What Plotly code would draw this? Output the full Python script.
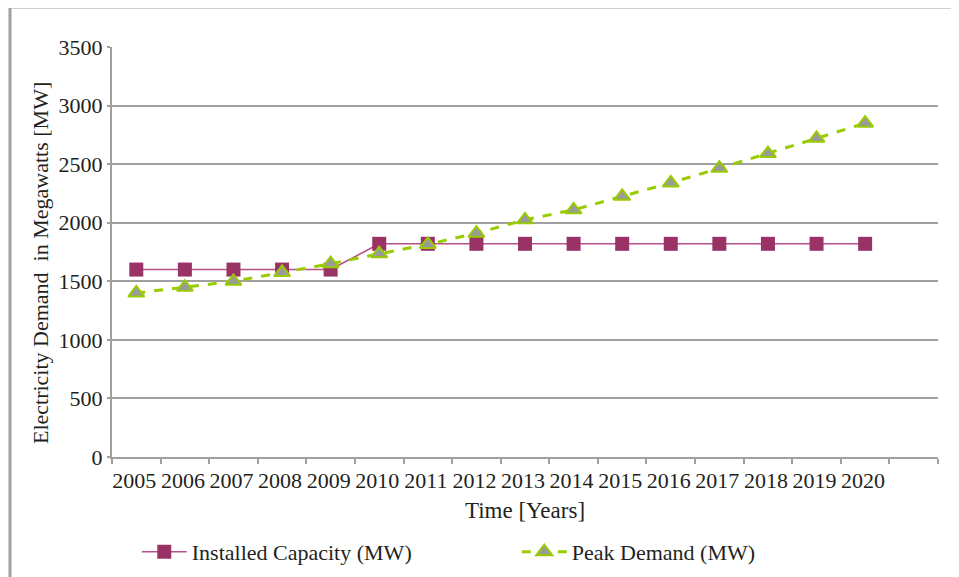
import plotly.graph_objects as go

years = list(range(2005, 2021))
year_labels = [str(y) for y in years]
installed_capacity = [1600, 1600, 1600, 1600, 1600, 1820, 1820, 1820, 1820, 1820, 1820, 1820, 1820, 1820, 1820, 1820]
peak_demand = [1400, 1450, 1500, 1575, 1650, 1735, 1815, 1910, 2025, 2110, 2225, 2340, 2465, 2590, 2720, 2850]
y_ticks = [0, 500, 1000, 1500, 2000, 2500, 3000, 3500]

FONT = "Liberation Serif"
TXT = "#231f20"

fig = go.Figure()
fig.add_trace(go.Scatter(
    x=years, y=installed_capacity, name="Installed Capacity (MW)",
    mode="lines+markers",
    line=dict(color="#b5508a", width=1.6),
    marker=dict(symbol="square", size=14, color="#993366", line=dict(color="#993366", width=0)),
))
fig.add_trace(go.Scatter(
    x=years, y=peak_demand, name="Peak Demand (MW)",
    mode="lines+markers",
    line=dict(color="#99cc00", width=3, dash="dash"),
    marker=dict(symbol="triangle-up", size=14, color="#9a9a9a", line=dict(color="#99cc00", width=2)),
))

# page body adds an 8px offset; sizes compensate for it
fig.update_layout(
    width=951, height=569,
    margin=dict(l=104, r=21, t=39, b=120),
    paper_bgcolor="white", plot_bgcolor="white",
    font=dict(family=FONT, size=22, color=TXT),
    showlegend=True,
    legend=dict(orientation="h", x=0.03, xanchor="left",
                yref="container", y=0.044, yanchor="middle",
                entrywidthmode="pixels", entrywidth=320, itemwidth=45,
                font=dict(family=FONT, size=22, color=TXT)),
    shapes=[dict(type="rect", xref="paper", yref="paper",
                 x0=-0.1235, x1=1.3, y0=-0.6, y1=1.0976,
                 line=dict(color="#a0a0a0", width=3), fillcolor="rgba(0,0,0,0)", layer="below")],
    annotations=[dict(text="Electricity Demand  in Megawatts [MW]", textangle=-90,
                      xref="paper", yref="paper", x=-0.0872, y=0.473,
                      xanchor="center", yanchor="middle", showarrow=False,
                      font=dict(family=FONT, size=22, color=TXT))],
)

fig.update_xaxes(
    automargin=False,
    range=[2004.5, 2021.5],
    tickmode="array", tickvals=years, ticktext=year_labels,
    ticks="", showgrid=False, zeroline=False,
    showline=True, linecolor="#a0a0a0", linewidth=2,
    minor=dict(tick0=2004.5, dtick=1, ticks="outside", ticklen=5, tickcolor="#a0a0a0", tickwidth=2, showgrid=False),
    tickfont=dict(family=FONT, size=22, color=TXT),
    ticklabelstandoff=3, ticklabelshift=-2,
    title=dict(text="Time [Years]", font=dict(family=FONT, size=23, color=TXT), standoff=9),
)
fig.update_yaxes(
    automargin=False,
    range=[0, 3500],
    tickmode="array", tickvals=y_ticks,
    ticks="outside", ticklen=3, tickcolor="#a0a0a0", tickwidth=2,
    showgrid=True, gridcolor="#a0a0a0", gridwidth=2,
    zeroline=False,
    showline=True, linecolor="#a0a0a0", linewidth=2,
    tickfont=dict(family=FONT, size=22, color=TXT),
)

fig.write_html("out.html")
